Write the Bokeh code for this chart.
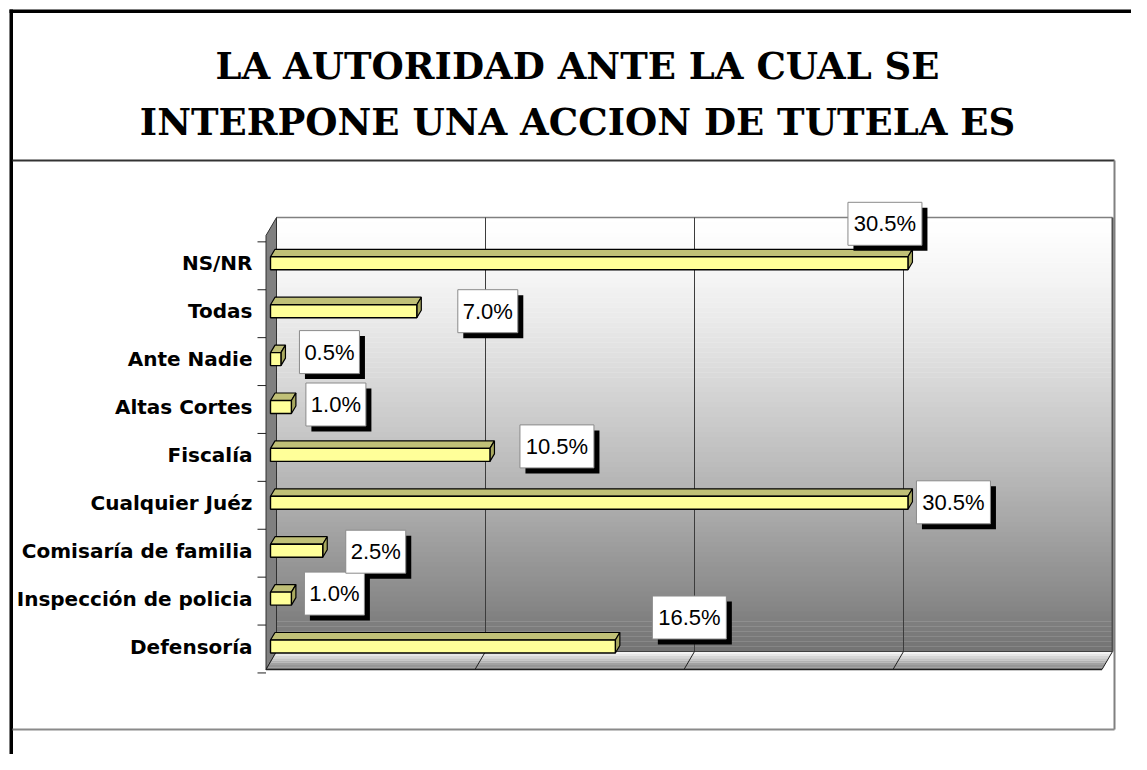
from bokeh.plotting import figure
from bokeh.models import Range1d
from bokeh.core.properties import value
from bokeh.embed import file_html
from bokeh.resources import INLINE

# ---------------- data ----------------
categories = ["Defensoría", "Inspección de policia", "Comisaría de familia",
              "Cualquier Juéz", "Fiscalía", "Altas Cortes", "Ante Nadie",
              "Todas", "NS/NR"]
values = [16.5, 1.0, 2.5, 30.5, 10.5, 1.0, 0.5, 7.0, 30.5]
grid_ticks = [0, 10, 20, 30, 40]
title_lines = ["LA AUTORIDAD ANTE LA CUAL SE", "INTERPONE UNA ACCION DE TUTELA ES"]

# ---------------- layout / style constants (pixels) ----------------
label_dx = [74, 43, 53, 45.5, 67, 44.5, 48.5, 71, -23]   # label offsets from bar end
label_dy = [29, 5, -1, 0.5, 8.5, 2.5, 7, 0, 39.5]

W, H = 1131, 754
XS, X0 = 20.9, 270.0      # px per percent, px of 0 %
YS, Y0 = 47.9, 646.0      # px per category, px of first category


def X(px):
    return (px - X0) / XS


def Y(py):
    return (Y0 - py) / YS


p = figure(width=W, height=H, x_range=Range1d(X(0), X(W)),
           y_range=Range1d(Y(H), Y(0)), output_backend="svg",
           toolbar_location=None, tools="", min_border=0,
           x_axis_location=None, y_axis_location=None)
p.grid.visible = False
p.outline_line_color = None
p.background_fill_color = "white"
p.border_fill_color = "white"

# ---------------- frames ----------------
p.quad(left=[X(9), X(9)], right=[X(1147), X(12.5)], top=[Y(9), Y(9)],
       bottom=[Y(12.5), Y(770)], fill_color="black", line_color=None)
p.line(x=[X(12), X(1114)], y=[Y(160), Y(160)], line_color="#333333", line_width=2)
p.line(x=[X(1114), X(1114)], y=[Y(160), Y(729)], line_color="#808080", line_width=2)
p.line(x=[X(12), X(1114)], y=[Y(729), Y(729)], line_color="#8a8a8a", line_width=2)

# ---------------- title ----------------
p.text(x=[X(577), X(577)], y=[Y(65), Y(121)], text=title_lines,
       text_font=value("DejaVu Serif"), text_font_style="bold",
       text_font_size="37px", text_align="center", text_baseline="middle",
       text_color="black")

# ---------------- 3D chart box ----------------
BL, BR, BT, BB = 276.0, 276.0 + 40 * XS, 217.0, 651.0
DX, DY = -10.5, 18.0

# back wall gradient
n = 87
ls, rs, ts, bs, cols = [], [], [], [], []
for k in range(n):
    y1 = BT + (BB - BT) * k / n
    y2 = BT + (BB - BT) * (k + 1) / n
    t = (k + 0.5) / n
    c = int(round(255 - 140 * t ** 1.3))
    ls.append(X(BL)); rs.append(X(BR)); ts.append(Y(y1)); bs.append(Y(y2 + 0.3))
    cols.append("#%02x%02x%02x" % (c, c, c))
p.quad(left=ls, right=rs, top=ts, bottom=bs, fill_color=cols, line_color=None)
p.line(x=[X(BL), X(BR)], y=[Y(BT), Y(BT)], line_color="#808080", line_width=1.5)
p.line(x=[X(BR), X(BR)], y=[Y(BT), Y(BB)], line_color="#505050", line_width=2)

# side wall
p.patch(x=[X(BL), X(BL), X(BL + DX), X(BL + DX)],
        y=[Y(BT), Y(BB), Y(BB + DY), Y(BT + DY)],
        fill_color="#808080", line_color="#303030", line_width=1)

# floor gradient
fcols = ["#f4f4f4", "#e6e6e6", "#d6d6d6", "#c4c4c4", "#b2b2b2",
         "#a2a2a2", "#969696", "#8c8c8c"]
xs, ys = [], []
m = len(fcols)
for k in range(m):
    f1, f2 = k / m, (k + 1) / m
    xs.append([X(BL + DX * f1), X(BR + DX * f1), X(BR + DX * f2), X(BL + DX * f2)])
    ys.append([Y(BB + DY * f1), Y(BB + DY * f1), Y(BB + DY * f2), Y(BB + DY * f2)])
p.patches(xs=xs, ys=ys, fill_color=fcols, line_color=None)
p.line(x=[X(BL + DX), X(BR + DX)], y=[Y(BB + DY), Y(BB + DY)], line_color="#202020", line_width=1.5)
p.line(x=[X(BL), X(BR)], y=[Y(BB), Y(BB)], line_color="#404040", line_width=1)

# gridlines (back wall + floor)
gx = [X(BL) + t for t in grid_ticks]
p.multi_line(xs=[[g, g] for g in gx[1:-1]], ys=[[Y(BT), Y(BB)]] * (len(gx) - 2),
             line_color="#3c3c3c", line_width=1)
p.multi_line(xs=[[g, g + DX / XS] for g in gx], ys=[[Y(BB), Y(BB + DY)]] * len(gx),
             line_color="#202020", line_width=1)

# category ticks on the side wall front edge
for k in range(len(categories) + 1):
    yy = k - 0.5 - 2.5 / YS
    p.line(x=[X(257), X(BL + DX)], y=[yy, yy], line_color="#202020", line_width=1)

# ---------------- bars ----------------
idx = list(range(len(categories)))
h = 13.0 / YS
a, b = 4.5 / XS, 7.5 / YS
top_xs, top_ys, side_xs, side_ys = [], [], [], []
for i, v in zip(idx, values):
    t = i + h / 2
    bo = i - h / 2
    top_xs.append([0, v, v + a, a]); top_ys.append([t, t, t + b, t + b])
    side_xs.append([v, v, v + a, v + a]); side_ys.append([bo, t, t + b, bo + b])
p.patches(xs=top_xs, ys=top_ys, fill_color="#c0c077", line_color="black", line_width=1.2)
p.patches(xs=side_xs, ys=side_ys, fill_color="#a9a95f", line_color="black", line_width=1.2)
p.hbar(y=idx, left=0, right=values, height=h, fill_color="#ffff99",
       line_color="black", line_width=1.4)

# ---------------- data labels ----------------
labels = ["%.1f%%" % v for v in values]
lx = [v + dx / XS for v, dx in zip(values, label_dx)]
ly = [i + dy / YS for i, dy in zip(idx, label_dy)]
bw = [14 * len(s) + 4 for s in labels]
p.rect(x=[x + 5.5 / XS for x in lx], y=[y - 5.5 / YS for y in ly], width=bw, height=43,
       width_units="screen", height_units="screen", fill_color="black", line_color=None)
p.rect(x=lx, y=ly, width=bw, height=43, width_units="screen", height_units="screen",
       fill_color="white", line_color="#8a8a8a", line_width=1)
p.text(x=lx, y=ly, text=labels, text_font=value("Liberation Sans"),
       text_font_size="22px", text_align="center", text_baseline="middle",
       text_color="black")

# ---------------- category labels ----------------
p.text(x=[X(252)] * len(categories), y=idx, text=categories,
       text_font=value("DejaVu Sans"), text_font_style="bold", text_font_size="20px",
       text_align="right", text_baseline="middle", text_color="black")

open("out.html", "w").write(file_html(p, INLINE))
